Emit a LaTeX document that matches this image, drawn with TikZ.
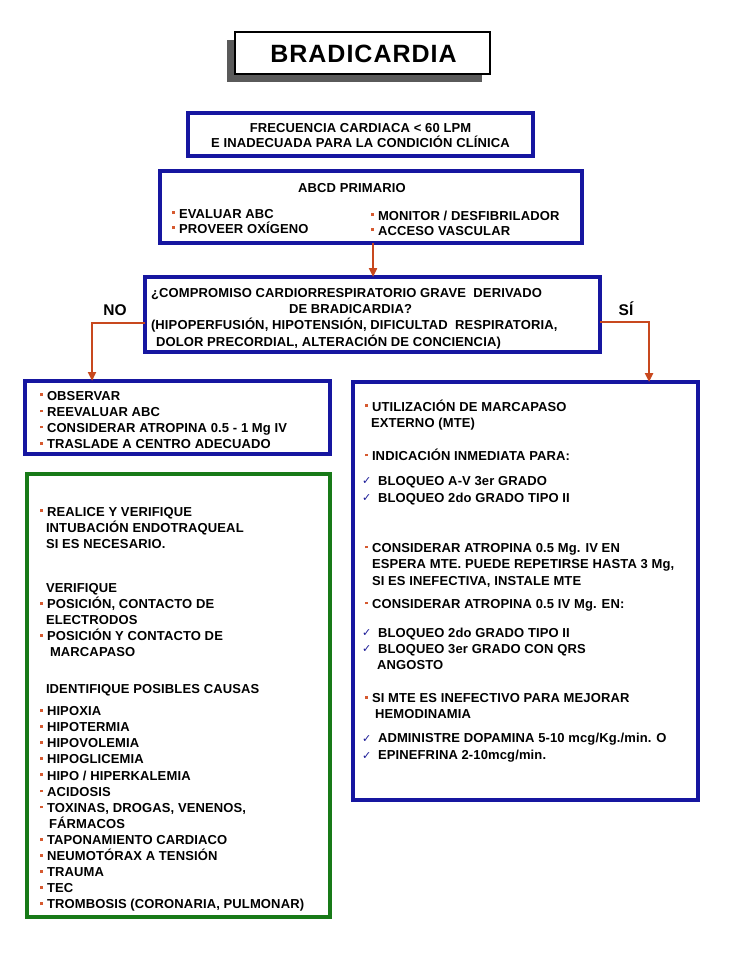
\documentclass[tikz,border=0pt]{standalone}
\usepackage{fontspec}
\setmainfont{Liberation Sans}[LetterSpace=1]
\newfontfamily\dejavu{DejaVu Sans}
\usetikzlibrary{arrows.meta,shadows}
\definecolor{boxblue}{RGB}{22,22,160}
\definecolor{boxgreen}{RGB}{24,122,24}
\definecolor{arrc}{RGB}{200,72,30}
\definecolor{bulc}{RGB}{214,90,48}
\definecolor{chkc}{RGB}{25,25,150}
\definecolor{shadowgray}{RGB}{90,90,90}
\newcommand\bul{\makebox[7pt][l]{\textcolor{bulc}{\rule[3.8pt]{2.8pt}{2.8pt}}}}
\newcommand\chk{\makebox[16pt][l]{\raisebox{0.5pt}{\dejavu\fontsize{11}{11}\selectfont\textcolor{chkc}{✓}}}}
\newcommand\fst{\rule{0pt}{12pt}}
\tikzset{
  bluebox/.style={draw=boxblue, line width=3.2pt, inner sep=0pt, outer sep=0pt},
  greenbox/.style={draw=boxgreen, line width=3.2pt, inner sep=0pt, outer sep=0pt},
  txt/.style={inner sep=0pt, outer sep=0pt, align=left, anchor=north west, text=black,
    font=\fontsize{13}{16.1}\selectfont\bfseries},
  lbl/.style={inner sep=0pt, outer sep=0pt, anchor=base, text=black,
    font=\fontsize{15.5}{15.5}\selectfont\bfseries},
  arr/.style={draw=arrc, line width=2.6pt, -{Triangle[length=9pt,width=8pt]}},
}
\begin{document}
\begin{tikzpicture}[x=1pt,y=-1pt]
\useasboundingbox (0,0) rectangle (728,971);
% title
\node[draw=black, line width=1.6pt, fill=white, inner sep=0pt, minimum width=255pt, minimum height=42pt,
  drop shadow={shadow xshift=-8pt, shadow yshift=-8pt, fill=shadowgray, opacity=1}] (title) at (362.5,53) {};
\node[inner sep=0pt, anchor=base, font=\fontsize{25}{25}\selectfont\bfseries\addfontfeature{LetterSpace=4}] (titletext) at (363.5,63) {BRADICARDIA};
% boxes
\node[bluebox, minimum width=345pt, minimum height=43pt] (b1) at (360.5,134.5) {};
\node[bluebox, minimum width=422pt, minimum height=72pt] (b2) at (371,207) {};
\node[bluebox, minimum width=455pt, minimum height=75pt] (b3) at (372.5,314.5) {};
\node[bluebox, minimum width=305pt, minimum height=73pt] (b4) at (177.5,417.5) {};
\node[greenbox, minimum width=303pt, minimum height=443pt] (b5) at (178.5,695.5) {};
\node[bluebox, minimum width=345pt, minimum height=418pt] (b6) at (525.5,591) {};
% texts
\node[txt, align=center, anchor=north, font=\fontsize{13}{15}\selectfont\bfseries] (t1) at (360.5,120)
  {\fst FRECUENCIA CARDIACA < 60 LPM\\E INADECUADA PARA LA CONDICIÓN CLÍNICA};
\node[txt, anchor=base] (t2a) at (352,192) {ABCD PRIMARIO};
\node[txt, font=\fontsize{13}{15}\selectfont\bfseries] (t2b) at (172,206) {\fst\bul EVALUAR ABC\\\bul PROVEER OXÍGENO};
\node[txt, font=\fontsize{13}{15}\selectfont\bfseries] (t2c) at (371,208) {\fst\bul MONITOR / DESFIBRILADOR\\\bul ACCESO VASCULAR};
\node[txt, font=\fontsize{13}{16.2}\selectfont\bfseries] (t3) at (151,285.5)
  {\fst ¿COMPROMISO CARDIORRESPIRATORIO GRAVE\ \ DERIVADO\\
   \hspace*{138pt}DE BRADICARDIA?\\
   (HIPOPERFUSIÓN, HIPOTENSIÓN, DIFICULTAD\ \ RESPIRATORIA,\\
   \hspace*{5pt}DOLOR PRECORDIAL, ALTERACIÓN DE CONCIENCIA)};
\node[lbl] (no) at (115,315) {NO};
\node[lbl] (si) at (626,315) {SÍ};
\node[txt] (t4) at (40,388)
  {\fst\bul OBSERVAR\\\bul REEVALUAR ABC\\\bul CONSIDERAR ATROPINA 0.5 - 1 Mg IV\\\bul TRASLADE A CENTRO ADECUADO};
\node[txt] (t5) at (40,504)
  {\fst\bul REALICE Y VERIFIQUE\\
   \hspace*{6pt}INTUBACIÓN ENDOTRAQUEAL\\
   \hspace*{6pt}SI ES NECESARIO.\\[27.9pt]
   \hspace*{6pt}VERIFIQUE\\
   \bul POSICIÓN, CONTACTO DE\\
   \hspace*{6pt}ELECTRODOS\\
   \bul POSICIÓN Y CONTACTO DE\\
   \hspace*{10pt}MARCAPASO\\[20.9pt]
   \hspace*{6pt}IDENTIFIQUE POSIBLES CAUSAS\\[5.9pt]
   \bul HIPOXIA\\
   \bul HIPOTERMIA\\
   \bul HIPOVOLEMIA\\
   \bul HIPOGLICEMIA\\
   \bul HIPO / HIPERKALEMIA\\
   \bul ACIDOSIS\\
   \bul TOXINAS, DROGAS, VENENOS,\\
   \hspace*{9pt}FÁRMACOS\\
   \bul TAPONAMIENTO CARDIACO\\
   \bul NEUMOTÓRAX A TENSIÓN\\
   \bul TRAUMA\\
   \bul TEC\\
   \bul TROMBOSIS (CORONARIA, PULMONAR)};
\node[txt] (t6) at (362,399)
  {\fst\hspace*{3pt}\bul UTILIZACIÓN DE MARCAPASO\\
   \hspace*{9pt}EXTERNO (MTE)\\[16.9pt]
   \hspace*{3pt}\bul INDICACIÓN INMEDIATA PARA:\\[8.9pt]
   \chk BLOQUEO A-V 3er GRADO\\[0.9pt]
   \chk BLOQUEO 2do GRADO TIPO II\\[33.9pt]
   \hspace*{3pt}\bul CONSIDERAR ATROPINA 0.5 Mg. IV EN\\
   \hspace*{10pt}ESPERA MTE. PUEDE REPETIRSE HASTA 3 Mg,\\[0.9pt]
   \hspace*{10pt}SI ES INEFECTIVA, INSTALE MTE\\[6.9pt]
   \hspace*{3pt}\bul CONSIDERAR ATROPINA 0.5 IV Mg. EN:\\[12.9pt]
   \chk BLOQUEO 2do GRADO TIPO II\\
   \chk BLOQUEO 3er GRADO CON QRS\\
   \hspace*{15pt}ANGOSTO\\[16.9pt]
   \hspace*{3pt}\bul SI MTE ES INEFECTIVO PARA MEJORAR\\
   \hspace*{13pt}HEMODINAMIA\\[7.9pt]
   \chk ADMINISTRE DOPAMINA 5-10 mcg/Kg./min. O\\[0.9pt]
   \chk EPINEFRINA 2-10mcg/min.};
% connectors
\coordinate (ax) at (373,0);
\coordinate (nox) at (92,0);
\coordinate (six) at (649,0);
\draw[arr] (b2.south -| ax) -- (b3.north -| ax);
\draw[arr] ([yshift=-8.5pt]b3.west) -| (b4.north -| nox);
\draw[arr] ([yshift=-7.5pt]b3.east) -| (b6.north -| six);
\end{tikzpicture}
\end{document}
